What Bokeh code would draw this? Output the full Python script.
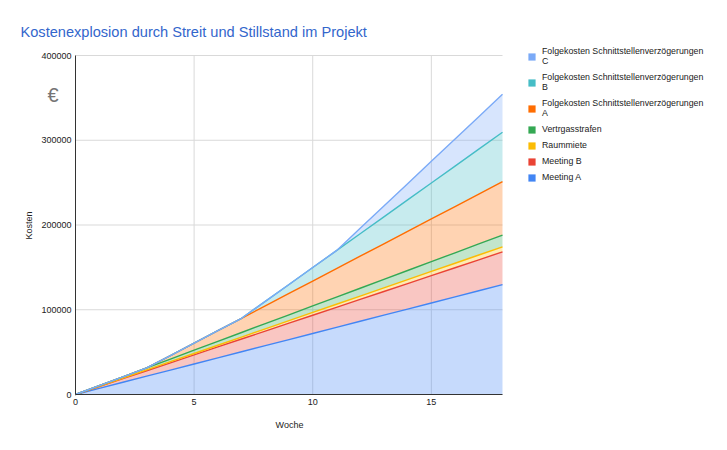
import math
from bokeh.plotting import figure
from bokeh.models import (ColumnDataSource, Legend, LegendItem, Label, FixedTicker,
                          BasicTickFormatter, Range1d)
from bokeh.embed import file_html
from bokeh.resources import INLINE

woche = [0, 1, 2, 3, 4, 5, 6, 7, 8, 9, 10, 11, 12, 13, 14, 15, 16, 17, 18]
meeting_a = [0, 7200, 14400, 21600, 28800, 36000, 43200, 50400, 57600, 64800, 72000,
             79200, 86400, 93600, 100800, 108000, 115200, 122400, 129600]
meeting_b = [0, 2150, 4300, 6450, 8600, 10750, 12900, 15050, 17200, 19350, 21500,
             23650, 25800, 27950, 30100, 32250, 34400, 36550, 38700]
raummiete = [0, 330, 660, 990, 1320, 1650, 1980, 2310, 2640, 2970, 3300,
             3630, 3960, 4290, 4620, 4950, 5280, 5610, 5940]
vertragsstrafen = [0, 770, 1540, 2310, 3080, 3850, 4620, 5390, 6160, 6930, 7700,
                   8470, 9240, 10010, 10780, 11550, 12320, 13090, 13860]
folge_a = [0, 0, 0, 0, 4200, 8400, 12600, 16800, 21000, 25200, 29400,
           33600, 37800, 42000, 46200, 50400, 54600, 58800, 63000]
folge_b = [0, 0, 0, 0, 0, 0, 0, 0, 5300, 10600, 15900,
           21200, 26500, 31800, 37100, 42400, 47700, 53000, 58300]
folge_c = [0, 0, 0, 0, 0, 0, 0, 0, 0, 0, 0,
           0, 6400, 12800, 19200, 25600, 32000, 38400, 44800]

names = ["Meeting A", "Meeting B", "Raummiete", "Vertrgasstrafen",
         "Folgekosten Schnittstellenverzögerungen\nA",
         "Folgekosten Schnittstellenverzögerungen\nB",
         "Folgekosten Schnittstellenverzögerungen\nC"]
colors = ["#4285f4", "#ea4335", "#fbbc04", "#34a853", "#ff6d01", "#46bdc6", "#7baaf7"]
x_ticks = [0, 5, 10, 15]
y_ticks = [0, 100000, 200000, 300000, 400000]
x_max = 18
y_max = 400000

keys = ["meeting_a", "meeting_b", "raummiete", "vertragsstrafen", "folge_a", "folge_b", "folge_c"]
src = ColumnDataSource(dict(woche=woche, meeting_a=meeting_a, meeting_b=meeting_b,
                            raummiete=raummiete, vertragsstrafen=vertragsstrafen,
                            folge_a=folge_a, folge_b=folge_b, folge_c=folge_c))

FONT = "Liberation Sans"

# layout constants (pixels)
W, H = 720, 445
PX_LEFT, PX_RIGHT, PX_TOP, PX_BOTTOM = 75, 502, 55, 394   # plotting area of the chart
KX = (PX_RIGHT - PX_LEFT) / x_max        # px per week
KY = (PX_BOTTOM - PX_TOP) / y_max        # px per euro


def dx(px):
    return (px - PX_LEFT) / KX


def dy(py):
    return (PX_BOTTOM - py) / KY


p = figure(width=W, height=H, output_backend="svg", toolbar_location=None,
           x_range=Range1d(dx(0), dx(W)), y_range=Range1d(dy(H), dy(0)),
           min_border_left=0, min_border_right=0, min_border_top=0, min_border_bottom=0)
p.outline_line_color = None
p.title.text = ""
p.xgrid.visible = False
p.ygrid.visible = False

# grid lines limited to the data area
p.segment(x0=0, x1=x_max, y0=y_ticks[1:], y1=y_ticks[1:], line_color="#d9d9d9", line_width=1)
p.segment(x0=x_ticks[1:], x1=x_ticks[1:], y0=0, y1=y_max, line_color="#d9d9d9", line_width=1)

p.varea_stack(keys, x="woche", source=src, fill_color=colors, fill_alpha=0.3)
p.vline_stack(keys, x="woche", source=src, line_color=colors, line_width=1.4)

# solid legend swatches: hidden copies of the stacked areas
proxies = p.varea_stack(keys, x="woche", source=src, fill_color=colors, fill_alpha=1.0,
                        visible=False)

items = [LegendItem(label=names[i], renderers=[proxies[i]]) for i in range(6, -1, -1)]
legend = Legend(items=items, location=(527, H - 182), border_line_color=None,
                background_fill_alpha=0, glyph_width=9, glyph_height=9,
                label_text_font_size="8.8px", label_text_font=FONT, label_text_color="#222222",
                label_text_line_height=0.9, label_height=9, spacing=6, padding=0,
                margin=0, label_standoff=6, inactive_fill_alpha=0)
p.add_layout(legend)

xa = p.xaxis[0]
ya = p.yaxis[0]
xa.ticker = FixedTicker(ticks=x_ticks)
ya.ticker = FixedTicker(ticks=y_ticks)
ya.formatter = BasicTickFormatter(use_scientific=False)
xa.bounds = (0, x_max)
ya.bounds = (0, y_max)
xa.fixed_location = 0
ya.fixed_location = 0

for ax in (xa, ya):
    ax.major_tick_out = 0
    ax.major_tick_in = 0
    ax.minor_tick_out = 0
    ax.minor_tick_in = 0
    ax.major_label_text_font = FONT
    ax.major_label_text_font_size = "9px"
    ax.major_label_text_color = "#222222"
    ax.axis_line_color = "#333333"
    ax.major_label_standoff = 4

p.add_layout(Label(x=dx(289), y=dy(424), text="Woche", text_align="center",
                   text_baseline="middle", text_font=FONT, text_font_size="9px",
                   text_color="#222222"))

p.add_layout(Label(x=dx(28), y=dy(225), text="Kosten", angle=math.pi / 2,
                   text_align="center", text_baseline="middle",
                   text_font=FONT, text_font_size="9px", text_color="#222222"))

p.add_layout(Label(x=dx(52.5), y=dy(94), text="€", text_align="center", text_baseline="middle",
                   text_font=FONT, text_font_size="20px", text_color="#757575"))

p.add_layout(Label(x=dx(20), y=dy(31), text="Kostenexplosion durch Streit und Stillstand im Projekt",
                   text_align="left", text_baseline="alphabetic",
                   text_font=FONT, text_font_size="14.6px", text_color="#3366cc"))

open("out.html", "w").write(file_html(p, INLINE))
